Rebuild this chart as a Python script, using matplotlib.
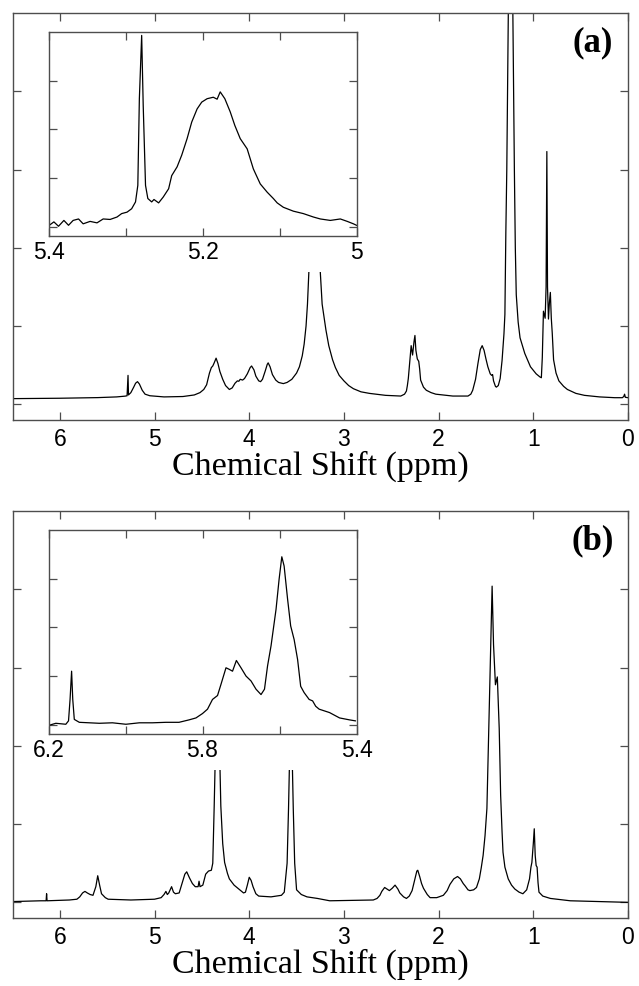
import matplotlib
matplotlib.use('Agg')
import matplotlib.pyplot as plt
from matplotlib.patches import Rectangle

# ---------------- data ----------------
# panel (a) main spectrum: chemical shift (ppm) and intensity (tick units)
a_ppm = [6.50, 6.00, 5.60, 5.40, 5.31, 5.29, 5.28, 5.275, 5.25, 5.22, 5.20, 5.18, 5.16, 5.13,
         5.10, 5.05, 4.90, 4.70, 4.58, 4.52, 4.48, 4.45, 4.42, 4.40, 4.385, 4.37, 4.35, 4.33,
         4.31, 4.28, 4.25, 4.21, 4.18, 4.15, 4.125, 4.11, 4.095, 4.07, 4.05, 4.02, 3.99, 3.975,
         3.95, 3.93, 3.90, 3.88, 3.86, 3.83, 3.81, 3.80, 3.78, 3.755, 3.72, 3.69, 3.64, 3.60,
         3.55, 3.50, 3.47, 3.44, 3.42, 3.40, 3.385, 3.37, 3.31, 3.25, 3.23, 3.19, 3.16, 3.12,
         3.09, 3.05, 3.00, 2.95, 2.90, 2.82, 2.73, 2.56, 2.40, 2.36, 2.34, 2.33, 2.32, 2.30,
         2.29, 2.275, 2.26, 2.25, 2.24, 2.225, 2.21, 2.20, 2.19, 2.16, 2.13, 2.08, 2.03, 1.85,
         1.69, 1.66, 1.64, 1.61, 1.585, 1.56, 1.54, 1.52, 1.50, 1.48, 1.455, 1.44, 1.43, 1.42,
         1.40, 1.39, 1.37, 1.35, 1.33, 1.31, 1.30, 1.29, 1.28, 1.24, 1.20, 1.19, 1.18, 1.16,
         1.14, 1.09, 1.03, 0.97, 0.93, 0.915, 0.905, 0.898, 0.893, 0.885, 0.875, 0.865, 0.857,
         0.85, 0.84, 0.83, 0.82, 0.81, 0.80, 0.786, 0.76, 0.73, 0.68, 0.64, 0.55, 0.46, 0.30,
         0.14, 0.06, 0.045, 0.036, 0.028, 0.00]
a_int = [0.073, 0.078, 0.086, 0.095, 0.105, 0.11, 0.37, 0.12, 0.15, 0.22, 0.27, 0.29, 0.26, 0.18,
         0.13, 0.11, 0.095, 0.10, 0.12, 0.15, 0.19, 0.25, 0.40, 0.47, 0.49, 0.53, 0.59, 0.52,
         0.42, 0.32, 0.24, 0.19, 0.21, 0.27, 0.30, 0.295, 0.32, 0.31, 0.33, 0.39, 0.47, 0.49,
         0.44, 0.36, 0.30, 0.29, 0.32, 0.43, 0.51, 0.53, 0.48, 0.38, 0.31, 0.28, 0.265, 0.28,
         0.32, 0.40, 0.48, 0.62, 0.77, 1.00, 1.28, 1.70, 3.50, 1.70, 1.28, 0.95, 0.75, 0.57,
         0.47, 0.37, 0.30, 0.24, 0.20, 0.16, 0.14, 0.115, 0.106, 0.13, 0.17, 0.24, 0.33, 0.60,
         0.75, 0.63, 0.80, 0.88, 0.69, 0.58, 0.55, 0.45, 0.31, 0.22, 0.18, 0.15, 0.13, 0.106,
         0.106, 0.13, 0.18, 0.32, 0.52, 0.70, 0.75, 0.69, 0.58, 0.48, 0.39, 0.37, 0.38, 0.30,
         0.23, 0.22, 0.24, 0.33, 0.56, 0.90, 1.15, 2.20, 3.00, 8.00, 3.00, 2.00, 1.40, 1.05,
         0.85, 0.65, 0.48, 0.39, 0.35, 0.34, 0.60, 0.95, 1.19, 1.15, 1.10, 1.50, 3.23,
         1.50, 1.09, 1.30, 1.43, 1.10, 0.91, 0.57, 0.40, 0.30, 0.23, 0.19, 0.14, 0.115, 0.095,
         0.085, 0.085, 0.10, 0.13, 0.09, 0.085]

# panel (a) inset (5.4 - 5.0 ppm)
a_in_ppm = [5.399, 5.393, 5.387, 5.380, 5.374, 5.368, 5.361, 5.355, 5.346, 5.337, 5.329, 5.320,
            5.311, 5.305, 5.298, 5.292, 5.287, 5.284, 5.282, 5.279, 5.277, 5.274, 5.271, 5.266,
            5.263, 5.257, 5.251, 5.244, 5.240, 5.233, 5.227, 5.220, 5.214, 5.207, 5.201, 5.194,
            5.186, 5.181, 5.177, 5.171, 5.164, 5.158, 5.151, 5.142, 5.134, 5.132, 5.125, 5.116,
            5.108, 5.103, 5.095, 5.082, 5.069, 5.056, 5.047, 5.034, 5.021, 5.012, 5.004, 5.000]
a_in_int = [0.03, 0.10, 0.01, 0.13, 0.03, 0.13, 0.16, 0.06, 0.11, 0.08, 0.16, 0.15,
            0.20, 0.27, 0.30, 0.37, 0.51, 0.85, 2.63, 3.93, 2.49, 0.85, 0.58, 0.51,
            0.56, 0.49, 0.61, 0.78, 1.05, 1.23, 1.47, 1.81, 2.15, 2.42, 2.56, 2.63,
            2.66, 2.62, 2.77, 2.63, 2.36, 2.08, 1.81, 1.60, 1.19, 1.12, 0.88, 0.71,
            0.58, 0.49, 0.40, 0.32, 0.27, 0.20, 0.16, 0.13, 0.16, 0.11, 0.06, 0.03]

# panel (b) main spectrum
b_ppm = [6.50, 6.20, 6.145, 6.14, 6.135, 5.90, 5.82, 5.79, 5.76, 5.735, 5.71, 5.68, 5.65, 5.62,
         5.60, 5.58, 5.56, 5.52, 5.49, 5.25, 5.00, 4.93, 4.90, 4.88, 4.865, 4.85, 4.82, 4.80,
         4.78, 4.74, 4.71, 4.68, 4.66, 4.63, 4.60, 4.57, 4.54, 4.53, 4.52, 4.49, 4.46, 4.43,
         4.40, 4.385, 4.37, 4.36, 4.335, 4.31, 4.30, 4.28, 4.26, 4.23, 4.21, 4.16, 4.12, 4.06,
         4.04, 4.02, 4.00, 3.98, 3.96, 3.93, 3.90, 3.77, 3.66, 3.63, 3.60, 3.585, 3.575, 3.56,
         3.545, 3.535, 3.52, 3.50, 3.45, 3.39, 3.28, 3.15, 2.90, 2.69, 2.65, 2.62, 2.60, 2.57,
         2.545, 2.52, 2.49, 2.46, 2.43, 2.41, 2.37, 2.34, 2.31, 2.28, 2.25, 2.23, 2.22, 2.20,
         2.18, 2.16, 2.12, 2.09, 2.02, 1.95, 1.91, 1.88, 1.84, 1.80, 1.77, 1.74, 1.72, 1.69,
         1.67, 1.63, 1.60, 1.57, 1.55, 1.53, 1.51, 1.49, 1.47, 1.45, 1.435, 1.42, 1.40, 1.38,
         1.36, 1.345, 1.33, 1.32, 1.30, 1.265, 1.23, 1.195, 1.15, 1.11, 1.07, 1.04, 1.025,
         1.015, 1.00, 0.99, 0.98, 0.97, 0.96, 0.95, 0.94, 0.90, 0.82, 0.61, 0.30, 0.00]
b_int = [0.01, 0.02, 0.02, 0.11, 0.02, 0.03, 0.04, 0.07, 0.12, 0.14, 0.12, 0.10, 0.09, 0.20,
         0.34, 0.22, 0.11, 0.06, 0.04, 0.03, 0.04, 0.06, 0.10, 0.14, 0.10, 0.12, 0.20, 0.13,
         0.11, 0.12, 0.24, 0.36, 0.39, 0.31, 0.24, 0.20, 0.20, 0.27, 0.20, 0.22, 0.36, 0.40,
         0.41, 0.50, 1.23, 1.78, 3.00, 1.78, 1.23, 0.75, 0.51, 0.37, 0.30, 0.22, 0.18, 0.12,
         0.13, 0.22, 0.32, 0.28, 0.20, 0.11, 0.08, 0.07, 0.09, 0.13, 0.50, 1.20, 1.78, 3.00,
         1.78, 1.20, 0.50, 0.16, 0.10, 0.07, 0.05, 0.02, 0.025, 0.03, 0.05, 0.09, 0.14, 0.19,
         0.17, 0.15, 0.18, 0.22, 0.17, 0.12, 0.07, 0.05, 0.08, 0.15, 0.30, 0.40, 0.41, 0.33,
         0.24, 0.18, 0.10, 0.06, 0.06, 0.09, 0.15, 0.23, 0.30, 0.33, 0.30, 0.24, 0.21, 0.16,
         0.15, 0.16, 0.19, 0.30, 0.44, 0.60, 0.85, 1.20, 2.22, 3.29, 4.04, 3.29, 2.78, 2.88,
         2.22, 1.37, 0.90, 0.64, 0.45, 0.30, 0.22, 0.17, 0.13, 0.11, 0.16, 0.30, 0.45,
         0.51, 0.75, 0.94, 0.60, 0.47, 0.45, 0.25, 0.13, 0.08, 0.05, 0.02, 0.01, 0.00]

# panel (b) inset (6.2 - 5.4 ppm)
b_in_ppm = [6.198, 6.181, 6.155, 6.148, 6.144, 6.140, 6.137, 6.133, 6.120, 6.094, 6.068, 6.034,
            5.999, 5.964, 5.930, 5.895, 5.861, 5.835, 5.817, 5.800, 5.787, 5.774, 5.761, 5.752,
            5.739, 5.731, 5.722, 5.712, 5.700, 5.687, 5.674, 5.661, 5.648, 5.639, 5.631, 5.622,
            5.609, 5.601, 5.594, 5.588, 5.579, 5.571, 5.562, 5.553, 5.545, 5.536, 5.523, 5.514,
            5.506, 5.497, 5.470, 5.444, 5.418, 5.403]
b_in_int = [-0.01, 0.03, 0.01, 0.08, 0.52, 1.10, 0.52, 0.11, 0.05, 0.04, 0.03, 0.04,
            0.01, 0.04, 0.04, 0.05, 0.05, 0.10, 0.14, 0.23, 0.32, 0.52, 0.60, 0.83,
            1.17, 1.14, 1.10, 1.32, 1.17, 1.00, 0.90, 0.73, 0.62, 0.73, 1.21, 1.62,
            2.37, 2.99, 3.45, 3.26, 2.58, 2.03, 1.75, 1.34, 0.79, 0.66, 0.52, 0.49,
            0.38, 0.32, 0.25, 0.14, 0.10, 0.08]

main_ticks = [6, 5, 4, 3, 2, 1, 0]
main_labels = ['6', '5', '4', '3', '2', '1', '0']
a_in_ticks = [5.4, 5.3, 5.2, 5.1, 5.0]
a_in_labels = ['5.4', '', '5.2', '', '5']
b_in_ticks = [6.2, 6.0, 5.8, 5.6, 5.4]
b_in_labels = ['6.2', '', '5.8', '', '5.4']

# ---------------- figure ----------------
W, H = 639, 987
fig = plt.figure(figsize=(W / 100, H / 100), dpi=100)

SERIF = ['Liberation Serif', 'DejaVu Serif']
SANS = ['Liberation Sans', 'DejaVu Sans']
SPINE = '0.3'


def px_rect(x0, y0, x1, y1):
    # pixel box (top-left origin) -> figure fraction [left, bottom, width, height]
    return [x0 / W, 1 - y1 / H, (x1 - x0) / W, (y1 - y0) / H]


def style_axes(ax, fs, pad):
    for s in ax.spines.values():
        s.set_color(SPINE)
        s.set_linewidth(1.0)
    ax.tick_params(direction='in', top=True, right=True, length=6, width=0.9,
                   color=SPINE, labelsize=fs, pad=pad)
    for lab in ax.get_xticklabels():
        lab.set_family(SANS)


def draw_panel(top_px, ppm, inten, in_ppm, in_int, in_xlim, in_ticks, in_labels, tag):
    # main spectrum
    ax = fig.add_axes(px_rect(12.5, top_px, 628, top_px + 407))
    ax.plot(ppm, inten, color='black', lw=0.9)
    ax.set_xlim(6.5, 0)
    ax.set_ylim(-0.2, 5.0)
    ax.set_xticks(main_ticks)
    ax.set_xticklabels(main_labels)
    ax.set_yticks([0, 1, 2, 3, 4])
    ax.set_yticklabels([])
    style_axes(ax, 16.5, 5)
    ax.set_xlabel('Chemical Shift (ppm)', family=SERIF, fontsize=24.5)
    ax.xaxis.set_label_coords(0.5, -0.072)
    ax.text(0.942, 0.929, tag, transform=ax.transAxes, ha='center', va='center',
            family=SERIF, fontweight='bold', fontsize=25)

    # white area under the inset (hides the tall peaks behind the inset labels)
    fig.add_artist(Rectangle((25 / W, 1 - (top_px + 259) / H), 350 / W, 40 / H,
                             transform=fig.transFigure, facecolor='white',
                             edgecolor='none', zorder=2))

    # inset
    ins = fig.add_axes(px_rect(48.5, top_px + 19, 356.5, top_px + 223))
    ins.set_zorder(3)
    ins.plot(in_ppm, in_int, color='black', lw=0.9)
    ins.set_xlim(*in_xlim)
    ins.set_ylim(-0.19, 4.0)
    ins.set_xticks(in_ticks)
    ins.set_xticklabels(in_labels)
    ins.set_yticks([0, 1, 2, 3])
    ins.set_yticklabels([])
    style_axes(ins, 16.5, 3)
    return ax


draw_panel(14, a_ppm, a_int, a_in_ppm, a_in_int, (5.4, 5.0), a_in_ticks, a_in_labels, '(a)')
draw_panel(512, b_ppm, b_int, b_in_ppm, b_in_int, (6.2, 5.4), b_in_ticks, b_in_labels, '(b)')

fig.savefig('out.png', dpi=100)
